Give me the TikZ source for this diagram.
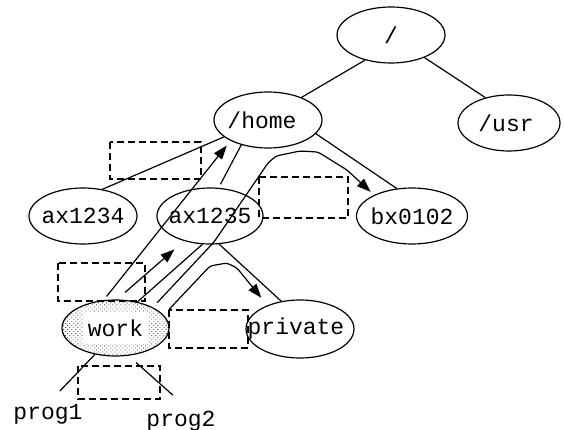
\documentclass[tikz,border=0pt]{standalone}
\usepackage{fontspec}
\setmonofont{Liberation Mono}
\usetikzlibrary{positioning,arrows.meta,shapes.geometric,patterns.meta}
\newcommand{\fname}[2][0pt]{\hspace*{#1}\makebox[0pt]{#2}\hspace*{-#1}}

\begin{document}
\begin{tikzpicture}[
  x=1pt, y=-1pt, line width=1.2pt,
  dir/.style={ellipse, draw, inner sep=0pt, minimum width=108pt, minimum height=56pt,
              font=\ttfamily\fontsize{23}{27}\selectfont},
  dotfill/.style={pattern={Dots[distance=2.9pt, angle=45, radius=0.6pt]}, pattern color=black!75},
  wbox/.style={fill=white, inner sep=0pt, minimum width=65pt, minimum height=32pt,
               font=\ttfamily\fontsize{23}{27}\selectfont},
  prog/.style={inner sep=0pt, font=\ttfamily\fontsize{23}{27}\selectfont},
  dashbox/.style={dash pattern=on 7pt off 4pt},
  arrow/.style={-{Triangle[length=14pt, width=10pt]}}
]
\useasboundingbox (0,0) rectangle (564,430);

% directories
\node[dir] (root) at (391,35) {\fname{/}};
\node[dir, minimum width=102pt] (usr) at (509,123) {\fname[-3pt]{/usr}};
\node[dir] (home) at (268,120) {\fname[-6pt]{/home}};
\node[dir] (ax1234) at (83,216) {\fname{ax1234}};
\node[dir, minimum width=106pt] (ax1235) at (210,216) {\fname{ax1235}};
\node[dir, minimum width=111pt] (bx0102) at (412,216) {\fname{bx0102}};
\node[dir, minimum width=107pt, dotfill, label={[wbox]center:work}] (work) at (115.5,328) {};
\node[dir, minimum height=58pt] (private) at (300,329) {\fname[-4pt]{private}};
\node[prog] (prog1) at (48,414) {prog1};
\node[prog] (prog2) at (181,421) {prog2};

% tree
\draw (root.224) -- (home.34);
\draw (root.326) -- (usr.133);
\draw (home.201) -- (ax1234.54);
\draw[shorten >=4pt] (home.223) -- (ax1235.73);
\draw (home.344) -- (bx0102.119);
\draw (ax1235.255) -- (work.50);
\draw (ax1235.288) -- (private.124);
\draw[shorten >=17pt] (work.232) -- (prog1.north);
\draw[shorten <=10pt, shorten >=23pt] (work.295) -- ([xshift=9pt]prog2.north);

% links
\draw[arrow, shorten <=4.7pt, shorten >=6pt] (work.113) -- (home.209);
\draw[arrow, shorten <=10.6pt, shorten >=12.7pt] (work.87) -- (ax1235.224);
\draw[arrow, shorten <=6.5pt, shorten >=4.5pt, rounded corners=3pt]
  (work.29) -- (214,242) -- (268,163) -- (276,156) -- (300,151) -- (318,152) -- (347,170) -- (bx0102.151);
\draw[arrow, shorten <=7.3pt, shorten >=9.6pt, rounded corners=3pt]
  (work.15) -- (210,266) -- (227,263) -- (237,268) -- (private.144);

% boxes
\draw[dashbox] (110,142) rectangle (201,179);
\draw[dashbox] (259,177) rectangle (348,218);
\draw[dashbox] (58,263) rectangle (145,301);
\draw[dashbox] (169,310) rectangle (248,348);
\draw[dashbox] (78,366) rectangle (160,399);
\end{tikzpicture}
\end{document}
